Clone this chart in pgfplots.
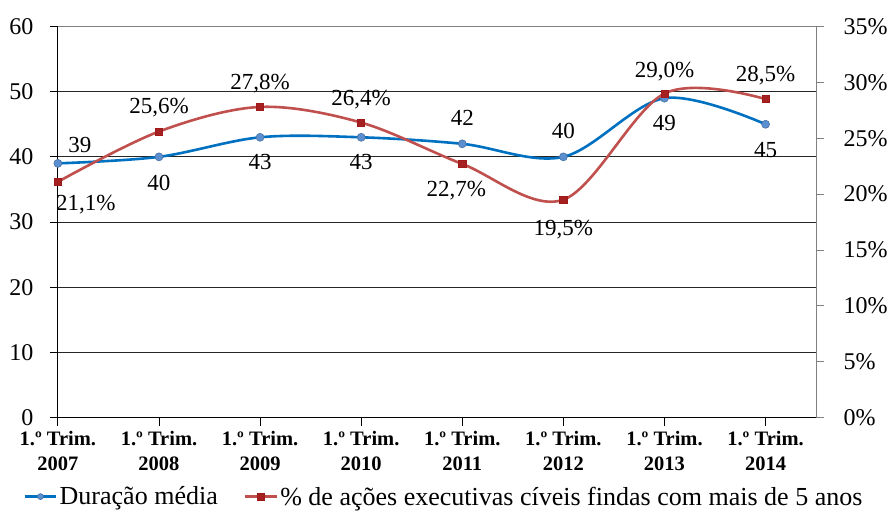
\documentclass[border={6pt 0pt 0pt 15pt}]{standalone}
\usepackage{pgfplots}
\pgfplotsset{compat=1.18}
\usepackage{pgfplotstable}
\usepackage{fontspec}
\setmainfont{Liberation Serif}
\definecolor{lblue}{HTML}{0070C0}
\definecolor{mblue}{HTML}{5B8FD0}
\definecolor{lred}{HTML}{C0504D}
\definecolor{dred}{HTML}{A01818}

\pgfplotstableread{
x y dx dy
0 39 22 18
1 40 0 -26
2 43 0 -25
3 43 0 -25
4 42 0 26
5 40 0 26
6 49 0 -25
7 45 0 -26
}\dur

\pgfplotstableread{
x y dx dy
0 21.1 28 -23
1 25.6 0 24
2 27.8 0 23
3 26.4 0 23
4 22.7 -6 -27
5 19.5 0 -30
6 29.0 0 22
7 28.5 0 23
}\pct

\begin{document}
\begin{tikzpicture}
\pgfplotsset{
  common/.style={
    scale only axis, width=758pt, height=391pt,
    xmin=0, xmax=7.5, clip=false,
    major tick length=8pt, tick align=outside,
    /pgf/number format/assume math mode=true,
    tick label style={font=\fontsize{24}{26}\selectfont},
  },
}
\begin{axis}[common,
  ymin=0, ymax=60, ytick={0,10,...,60},
  axis x line*=bottom, axis y line*=left,
  axis line style={black, line width=0.8pt},
  tick style={black, line width=0.8pt},
  ymajorgrids, grid style={black!85, line width=0.8pt},
  xtick={0,...,7},
  xticklabels={{1.º Trim.\\2007},{1.º Trim.\\2008},{1.º Trim.\\2009},{1.º Trim.\\2010},{1.º Trim.\\2011},{1.º Trim.\\2012},{1.º Trim.\\2013},{1.º Trim.\\2014}},
  xticklabel style={align=center, font=\fontsize{20.5}{25}\selectfont\bfseries, yshift=-2pt},
  yticklabel style={xshift=-13pt},
]
\addplot[lblue, line width=2.6pt, smooth, tension=0.55,
  mark=*, mark size=4pt, mark options={fill=mblue, draw=mblue!80!black, line width=0.6pt},
  point meta=y,
  visualization depends on={\thisrow{dx} \as \dx},
  visualization depends on={\thisrow{dy} \as \dy},
  nodes near coords={\pgfmathprintnumber{\pgfplotspointmeta}},
  every node near coord/.append style={anchor=center, xshift=\dx pt, yshift=\dy pt, font=\fontsize{23}{25}\selectfont, text=black},
] table[x=x, y=y] {\dur};
\end{axis}
\begin{axis}[common,
  ymin=0, ymax=35, ytick={0,5,...,35},
  axis y line*=right, axis x line*=top, xtick=\empty,
  axis line style={black!50, line width=0.8pt},
  tick style={black!50, line width=0.8pt},
  yticklabel={\pgfmathprintnumber{\tick}\%},
  yticklabel style={xshift=16pt},
  legend style={at={(0.509,-0.202)}, anchor=center, draw=none, fill=none,
    font=\fontsize{26}{28}\selectfont, legend columns=2,
    /tikz/every even column/.append style={column sep=24pt}},
  legend image code/.code={\draw[mark repeat=2, mark phase=2] plot coordinates {(0cm,0cm) (0.56cm,0cm) (1.12cm,0cm)};},
]
\addlegendimage{lblue, line width=2.6pt, mark=*, mark size=3pt, mark options={fill=mblue, draw=mblue!80!black, line width=0.6pt}}
\addlegendentry{Duração média}
\addplot[lred, line width=2.6pt, smooth, tension=0.55,
  mark=square*, mark size=3.6pt, mark options={fill=dred!85!lred, draw=dred, line width=0.6pt},
  point meta=y,
  visualization depends on={\thisrow{dx} \as \dx},
  visualization depends on={\thisrow{dy} \as \dy},
  nodes near coords={\pgfmathprintnumber[fixed, fixed zerofill, precision=1, use comma]{\pgfplotspointmeta}\%},
  every node near coord/.append style={anchor=center, xshift=\dx pt, yshift=\dy pt, font=\fontsize{23}{25}\selectfont, text=black},
] table[x=x, y=y] {\pct};
\addlegendentry{\% de ações executivas cíveis findas com mais de 5 anos}
\end{axis}
\end{tikzpicture}
\end{document}
